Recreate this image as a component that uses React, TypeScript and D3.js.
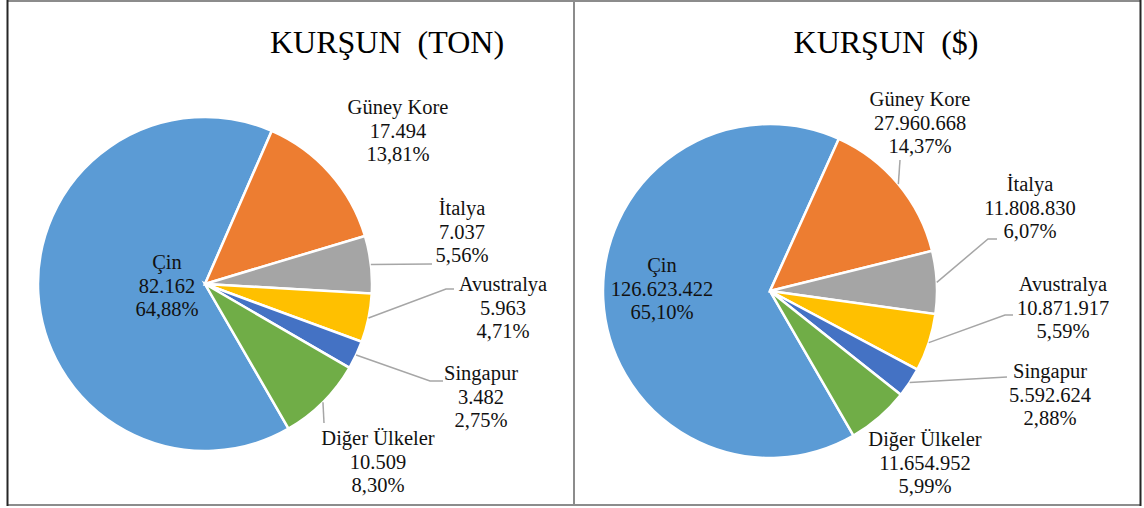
import * as d3 from "d3";

const categories = ["Çin", "Güney Kore", "İtalya", "Avustralya", "Singapur", "Diğer Ülkeler"];
const tonValues = [82162, 17494, 7037, 5963, 3482, 10509];
const tonPercents = ["64,88%", "13,81%", "5,56%", "4,71%", "2,75%", "8,30%"];
const usdValues = [126623422, 27960668, 11808830, 10871917, 5592624, 11654952];
const usdPercents = ["65,10%", "14,37%", "6,07%", "5,59%", "2,88%", "5,99%"];
const colors = ["#5B9BD5", "#ED7D31", "#A5A5A5", "#FFC000", "#4472C4", "#70AD47"];

const width = 1144;
const height = 508;
const font = "'Liberation Serif', 'DejaVu Serif', serif";
const lineGap = 23.5;

const trFormat = d3.formatLocale({
  decimal: ",",
  thousands: ".",
  grouping: [3],
  currency: ["", "$"],
}).format(",d");

type Label = { x: number; y: number; leader?: [number, number][] };

// label layout per slice: text centre x, first baseline, leader bends
const tonLabels: Label[] = [
  { x: 167, y: 269 },
  { x: 398, y: 114 },
  { x: 462, y: 215, leader: [[432, 264]] },
  { x: 503, y: 291, leader: [[446, 289], [454, 289]] },
  { x: 481, y: 380, leader: [[430, 381], [443, 381]] },
  { x: 378, y: 445, leader: [[324, 423]] },
];

const usdLabels: Label[] = [
  { x: 662, y: 272 },
  { x: 920, y: 106, leader: [[900, 160]] },
  { x: 1030, y: 191, leader: [[988, 239], [997, 239]] },
  { x: 1063, y: 291, leader: [[1005, 315], [1013, 315]] },
  { x: 1050, y: 378, leader: [[1007, 377]] },
  { x: 925, y: 446 },
];

function Pie({
  title,
  titleX,
  values,
  percents,
  labels,
  cx,
  cy,
  r,
}: {
  title: string;
  titleX: number;
  values: number[];
  percents: string[];
  labels: Label[];
  cx: number;
  cy: number;
  r: number;
}) {
  const start = (150 * Math.PI) / 180;
  const pie = d3
    .pie<number>()
    .sort(null)
    .value((d) => d)
    .startAngle(start)
    .endAngle(start + 2 * Math.PI);
  const arcs = pie(values);
  const arc = d3.arc<d3.PieArcDatum<number>>().innerRadius(0).outerRadius(r);
  const line = d3.line();

  return (
    <g>
      <text
        x={titleX}
        y={53}
        textAnchor="middle"
        fontFamily={font}
        fontSize={32}
        fill="#000"
        style={{ whiteSpace: "pre" }}
      >
        {title}
      </text>
      <g transform={`translate(${cx},${cy})`}>
        {arcs.map((a, i) => (
          <path key={i} d={arc(a) || ""} fill={colors[i]} stroke="#fff" strokeWidth={2.5} />
        ))}
      </g>
      {arcs.map((a, i) => {
        const lab = labels[i];
        if (!lab.leader) return null;
        const mid = (a.startAngle + a.endAngle) / 2;
        const p0: [number, number] = [cx + r * Math.sin(mid), cy - r * Math.cos(mid)];
        return (
          <path
            key={"l" + i}
            d={line([p0, ...lab.leader]) || ""}
            fill="none"
            stroke="#A6A6A6"
            strokeWidth={1.5}
          />
        );
      })}
      {arcs.map((a, i) => {
        const lab = labels[i];
        const lines = [categories[i], trFormat(values[i]), percents[i]];
        return (
          <text
            key={"t" + i}
            textAnchor="middle"
            fontFamily={font}
            fontSize={20.5}
            fill="#111"
          >
            {lines.map((s, k) => (
              <tspan key={k} x={lab.x} y={lab.y + k * lineGap}>
                {s}
              </tspan>
            ))}
          </text>
        );
      })}
    </g>
  );
}

export default function App() {
  return (
    <svg
      width={width}
      height={height}
      style={{ position: "absolute", left: 0, top: 0, background: "#fff" }}
    >
      <rect x={0} y={0} width={width} height={height} fill="#fff" />
      <Pie
        title="KURŞUN  (TON)"
        titleX={387}
        values={tonValues}
        percents={tonPercents}
        labels={tonLabels}
        cx={205}
        cy={284}
        r={167}
      />
      <Pie
        title="KURŞUN  ($)"
        titleX={886}
        values={usdValues}
        percents={usdPercents}
        labels={usdLabels}
        cx={770}
        cy={291}
        r={167}
      />
      {/* table borders */}
      <line x1={7} y1={1} x2={1141} y2={1} stroke="#8c8c8c" strokeWidth={2} />
      <line x1={7} y1={505} x2={1141} y2={505} stroke="#8c8c8c" strokeWidth={2} />
      <line x1={574} y1={0} x2={574} y2={506} stroke="#8c8c8c" strokeWidth={2} />
      <line x1={7.5} y1={0} x2={7.5} y2={506} stroke="#262626" strokeWidth={2} />
      <line x1={1140.5} y1={0} x2={1140.5} y2={506} stroke="#262626" strokeWidth={2} />
    </svg>
  );
}
